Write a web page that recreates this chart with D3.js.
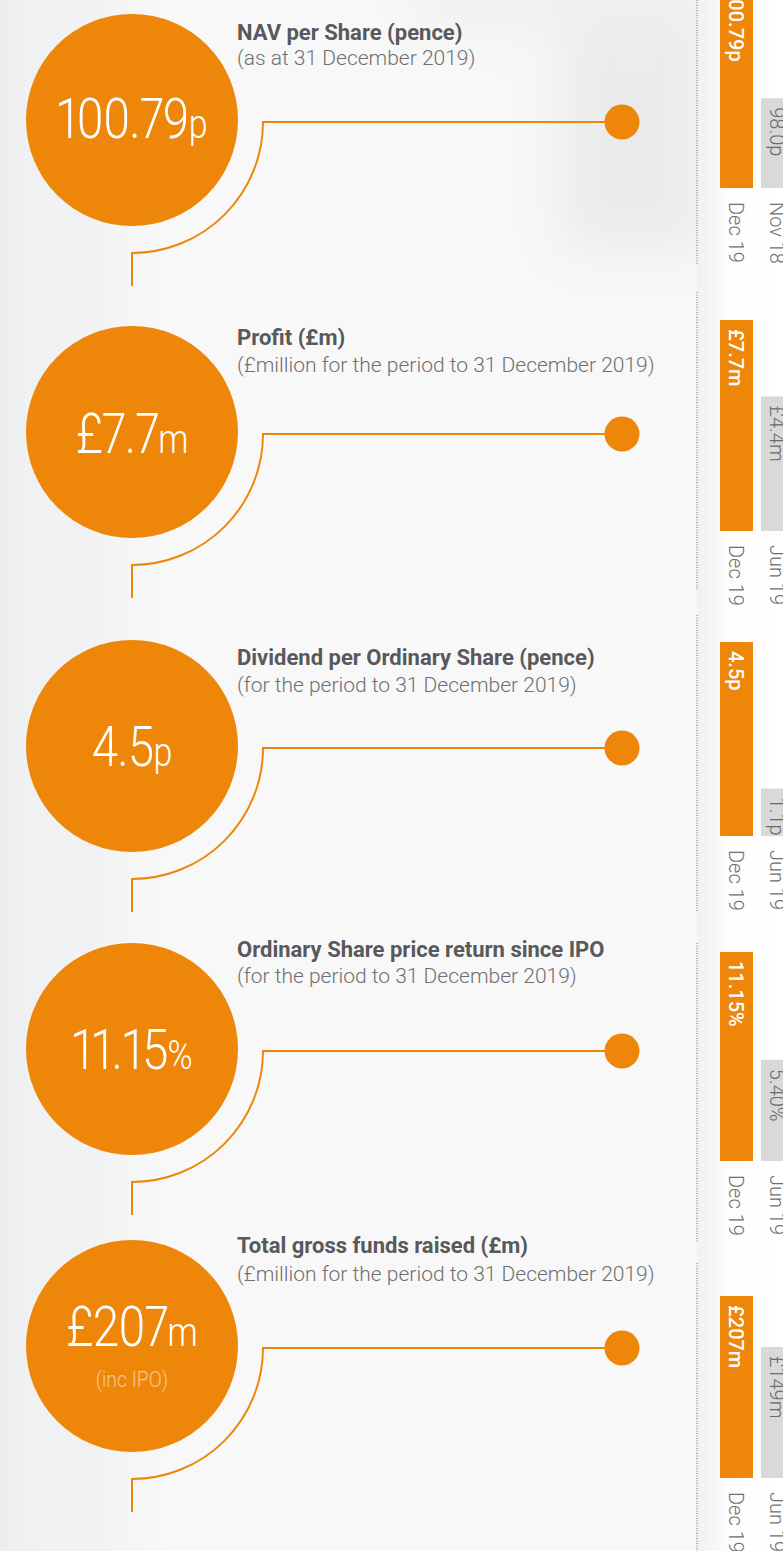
<!DOCTYPE html>
<html>
<head>
<meta charset="utf-8">
<script src="https://cdn.jsdelivr.net/npm/d3@7"></script>
<style>
html, body { margin: 0; padding: 0; background: #f7f7f7; }
svg { display: block; font-family: Roboto, "Noto Sans", sans-serif; }
.big { font-variant-numeric: proportional-nums; font-feature-settings: "pnum" 1; }
</style>
</head>
<body>
<svg id="chart" width="783" height="1551"></svg>
<script>
// Data
const metricTitles = ["NAV per Share (pence)", "Profit (£m)", "Dividend per Ordinary Share (pence)", "Ordinary Share price return since IPO", "Total gross funds raised (£m)"];
const metricNotes = ["(as at 31 December 2019)", "(£million for the period to 31 December 2019)", "(for the period to 31 December 2019)", "(for the period to 31 December 2019)", "(£million for the period to 31 December 2019)"];
const prefixes = ["", "£", "", "", "£"];
const suffixes = ["p", "m", "p", "%", "m"];
const circleNotes = ["", "", "", "", "(inc IPO)"];
const currentLabels = ["Dec 19", "Dec 19", "Dec 19", "Dec 19", "Dec 19"];
const priorLabels = ["Nov 18", "Jun 19", "Jun 19", "Jun 19", "Jun 19"];
const currentValues = [100.79, 7.7, 4.5, 11.15, 207];
const priorValues = [98.0, 4.4, 1.1, 5.40, 149];
const currentDecimals = [2, 1, 1, 2, 0];
const priorDecimals = [1, 1, 1, 2, 0];

// Layout (per panel)
const circleY = [120, 432, 746, 1049, 1346];
const valueDy = [18, 21, 20, 20, 0];
const titleY = [40, 345, 665, 957, 1253];
const noteY = [65, 372, 692, 983, 1281];
const ruleSpan = [[-5, 265], [292, 590], [615, 912], [943, 1242], [1263, 1560]];
const barBase = [188, 531, 836, 1161, 1478];
const barHeight = [209, 211, 194, 209, 182];
const axisFloor = [95.9, -1.4, 0, 0, 0];

const orange = "#ee860a", greyBar = "#d9d9d9";
const cx = 132, radius = 106, arcR = 131, dotX = 622;

const svg = d3.select("#chart");
const defs = svg.append("defs");
defs.append("filter").attr("id", "soft").attr("x", "-50%").attr("y", "-50%").attr("width", "200%").attr("height", "200%")
    .append("feGaussianBlur").attr("stdDeviation", 26);
const fade = defs.append("linearGradient").attr("id", "fade");
fade.append("stop").attr("offset", 0).attr("stop-color", "#f1f1f1");
fade.append("stop").attr("offset", 0.4).attr("stop-color", "#fdfdfd");
fade.append("stop").attr("offset", 1).attr("stop-color", "#ffffff");

// soft photo-like background
const bg = svg.append("g");
bg.append("rect").attr("width", 783).attr("height", 1551).attr("fill", "#f8f8f8");
const blobs = bg.append("g").attr("filter", "url(#soft)");
blobs.append("rect").attr("x", -60).attr("y", -60).attr("width", 95).attr("height", 1700).attr("fill", "#e8eaeb");
blobs.append("rect").attr("x", 0).attr("y", -60).attr("width", 125).attr("height", 1700).attr("fill", "#f1f2f3");
blobs.append("rect").attr("x", 560).attr("y", -80).attr("width", 150).attr("height", 330).attr("fill", "#ebebeb");
blobs.append("rect").attr("x", 420).attr("y", -80).attr("width", 280).attr("height", 110).attr("fill", "#f0f0f0");
bg.append("rect").attr("x", 697).attr("width", 86).attr("height", 1551).attr("fill", "url(#fade)");

const panels = d3.range(metricTitles.length).map(i => ({
    i,
    title: metricTitles[i],
    note: metricNotes[i],
    cy: circleY[i],
    bars: [
        { label: currentLabels[i], value: currentValues[i], dec: currentDecimals[i], current: true },
        { label: priorLabels[i], value: priorValues[i], dec: priorDecimals[i], current: false }
    ]
}));

const fmt = (i, v, d) => prefixes[i] + v.toFixed(d) + suffixes[i];

const panel = svg.selectAll(".panel").data(panels).join("g").attr("class", "panel");

// connector: dot -> horizontal line -> quarter arc -> drop
panel.append("path")
    .attr("fill", "none").attr("stroke", orange).attr("stroke-width", 2)
    .attr("d", d => {
        const ly = d.cy + 2, p = d3.path();
        p.moveTo(dotX, ly);
        p.lineTo(cx + arcR, ly);
        p.arc(cx, ly, arcR, 0, Math.PI / 2);
        p.lineTo(cx, ly + arcR + 33);
        return p.toString();
    });
panel.append("circle").attr("cx", dotX).attr("cy", d => d.cy + 2).attr("r", 17.5).attr("fill", orange);
panel.append("circle").attr("cx", cx).attr("cy", d => d.cy).attr("r", radius).attr("fill", orange);

// big value (narrowed to mimic the condensed face)
const big = panel.append("text").attr("class", "big")
    .attr("transform", d => `translate(${cx},${d.cy + valueDy[d.i]}) scale(0.85,1)`)
    .attr("text-anchor", "middle").attr("fill", "#fff")
    .attr("font-weight", 300).attr("letter-spacing", -1);
big.append("tspan").attr("font-size", 56).text(d => prefixes[d.i] + currentValues[d.i].toFixed(currentDecimals[d.i]));
big.append("tspan").attr("font-size", 40).attr("letter-spacing", 0).text(d => suffixes[d.i]);
panel.filter(d => circleNotes[d.i]).append("text")
    .attr("transform", d => `translate(${cx},${d.cy + 41}) scale(0.88,1)`)
    .attr("text-anchor", "middle").attr("fill", "#fff").attr("fill-opacity", 0.55)
    .attr("font-size", 22).attr("font-weight", 300)
    .text(d => circleNotes[d.i]);

// titles
panel.append("text").attr("x", 237).attr("y", d => titleY[d.i])
    .attr("font-size", 22).attr("font-weight", 700).attr("fill", "#58595c")
    .text(d => d.title);
panel.append("text").attr("x", 237).attr("y", d => noteY[d.i])
    .attr("font-size", 21).attr("font-weight", 300).attr("fill", "#6e6f72")
    .text(d => d.note);

// dotted separator
panel.append("line").attr("x1", 697).attr("x2", 697)
    .attr("y1", d => ruleSpan[d.i][0]).attr("y2", d => ruleSpan[d.i][1])
    .attr("stroke", "#6f6f6f").attr("stroke-width", 1).attr("stroke-dasharray", "1,1.5");

// mini column charts with rotated text
panel.each(function(d) {
    const g = d3.select(this);
    const x = d3.scaleBand().domain(d.bars.map(b => b.label)).range([720, 794]).paddingInner(0.195);
    const y = d3.scaleLinear().domain([axisFloor[d.i], currentValues[d.i]]).range([barBase[d.i], barBase[d.i] - barHeight[d.i]]);

    g.selectAll(".bar").data(d.bars).join("rect").attr("class", "bar")
        .attr("x", b => x(b.label)).attr("width", x.bandwidth())
        .attr("y", b => y(b.value)).attr("height", b => barBase[d.i] - y(b.value))
        .attr("fill", b => b.current ? orange : greyBar);

    g.selectAll(".val").data(d.bars).join("text").attr("class", "val")
        .attr("transform", b => `translate(${x(b.label) + x.bandwidth() / 2},${y(b.value) + 9}) rotate(90)`)
        .attr("dy", "0.36em")
        .attr("font-size", 20)
        .attr("font-weight", b => b.current ? 500 : 300)
        .attr("fill", b => b.current ? "#fff" : "#6a6a6a")
        .text(b => fmt(d.i, b.value, b.dec));

    const axis = g.append("g").attr("transform", `translate(0,${barBase[d.i]})`)
        .call(d3.axisBottom(x).tickSize(0).tickPadding(0));
    axis.select(".domain").remove();
    axis.selectAll("text")
        .attr("transform", "rotate(90)")
        .attr("x", 14).attr("y", 0).attr("dy", "0.36em")
        .attr("text-anchor", "start")
        .attr("font-family", "Roboto, sans-serif")
        .attr("font-size", 20).attr("font-weight", 300)
        .attr("fill", "#6f6f6f");
});
</script>
</body>
</html>
